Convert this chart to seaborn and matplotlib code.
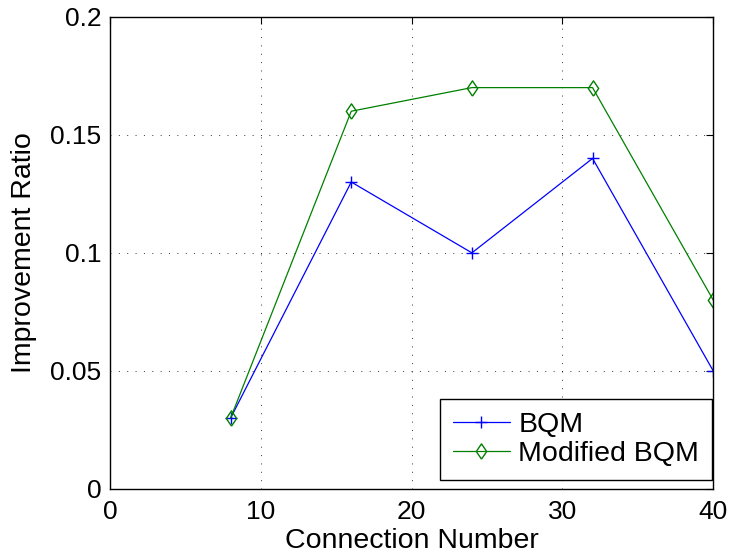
import matplotlib
matplotlib.use("Agg")
import matplotlib.pyplot as plt
import seaborn as sns
import pandas as pd

connections = [8, 16, 24, 32, 40]
bqm = [0.03, 0.13, 0.10, 0.14, 0.05]
modified_bqm = [0.03, 0.16, 0.17, 0.17, 0.08]
x_ticks = [0, 10, 20, 30, 40]
y_ticks = [0, 0.05, 0.1, 0.15, 0.2]
y_tick_labels = ["0", "0.05", "0.1", "0.15", "0.2"]

sns.set_style("white")
plt.rcParams['font.family'] = ['Liberation Sans', 'DejaVu Sans']
plt.rcParams['text.color'] = 'black'
plt.rcParams['axes.labelcolor'] = 'black'

fig = plt.figure(figsize=(7.33, 5.6), dpi=100)
ax = fig.add_axes([0.150, 0.127, 0.823, 0.843])

blue = (0, 0, 1)
green = (0, 0.5, 0)
diamond = [(0, -1), (0.68, 0), (0, 1), (-0.68, 0), (0, -1)]

df1 = pd.DataFrame({"x": connections, "y": bqm})
df2 = pd.DataFrame({"x": connections, "y": modified_bqm})
sns.lineplot(data=df1, x="x", y="y", ax=ax, color=blue, lw=0.9,
             marker="+", markersize=9, markeredgewidth=1.0,
             markeredgecolor=blue, label="BQM")
sns.lineplot(data=df2, x="x", y="y", ax=ax, color=green, lw=0.9,
             marker=diamond, markersize=11, markeredgewidth=1.0,
             markerfacecolor="none", markeredgecolor=green, label="Modified BQM")

ax.set_xlim(0, 40)
ax.set_ylim(0, 0.2)
ax.set_xticks(x_ticks)
ax.set_yticks(y_ticks)
ax.set_yticklabels(y_tick_labels)
ax.tick_params(labelsize=19, direction="in", length=5, width=0.8, colors="black",
               top=True, right=True)
ax.tick_params(axis="x", pad=8)
ax.tick_params(axis="y", pad=6)
ax.grid(True, linestyle=(0, (1, 7.6)), color="black", linewidth=0.7, alpha=0.8)
for s in ax.spines.values():
    s.set_color("black")
    s.set_linewidth(1.0)
ax.set_xlabel("Connection Number", fontsize=20.5, labelpad=3)
ax.set_ylabel("Improvement Ratio", fontsize=20.5, labelpad=10)

leg = ax.legend(loc="lower right", bbox_to_anchor=(0.998, 0.019), fontsize=20.5,
                frameon=True, fancybox=False, edgecolor="black", borderaxespad=0,
                handlelength=2.0, labelspacing=0.12, borderpad=0.45, handletextpad=0.3)
leg.get_frame().set_linewidth(1.0)
leg.get_frame().set_alpha(1)

fig.savefig("out.png", dpi=100)
